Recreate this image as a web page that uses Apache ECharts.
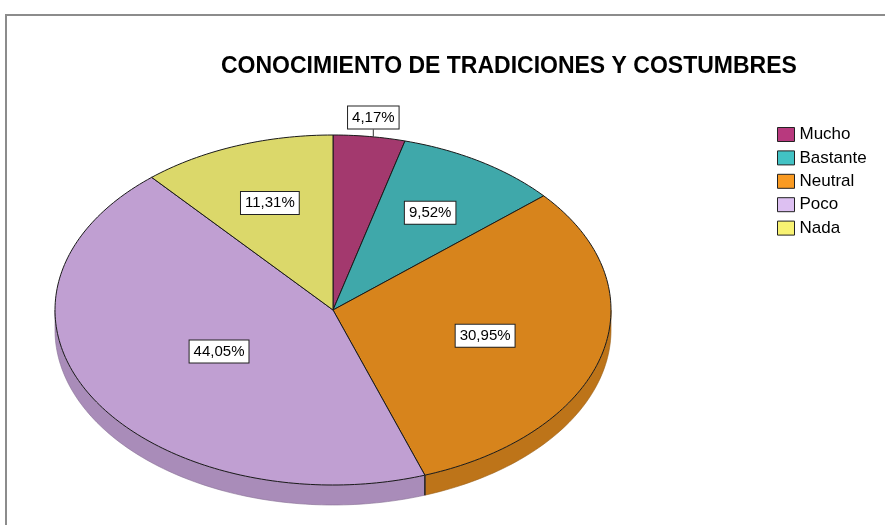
<!DOCTYPE html>
<html>
<head>
<meta charset="utf-8">
<script src="https://cdn.jsdelivr.net/npm/echarts@6/dist/echarts.min.js"></script>
<style>
  html, body { margin: 0; padding: 0; background: #fff; }
  #chart { width: 885px; height: 525px; }
</style>
</head>
<body>
<div id="chart"></div>
<script>
// data (percentages, clockwise from 12 o'clock)
const categories = ['Mucho', 'Bastante', 'Neutral', 'Poco', 'Nada'];
const percents = [4.17, 9.52, 30.95, 44.05, 11.31];
const sliceColors = ['#a3396e', '#3fa8aa', '#d7841c', '#c09fd2', '#dbd86a'];
const legendColors = ['#b8397e', '#42c2c4', '#f99a22', '#ddc0f2', '#f8f272'];

// ellipse layout (tilted pie)
const CX = 333, CY = 310, RX = 278, RY = 175, DEPTH = 20;

const total = percents.reduce((a, b) => a + b, 0);
const starts = [];
let acc = 0;
percents.forEach(v => { starts.push(acc); acc += v; });

function pt(theta, r) {
  return [CX + RX * r * Math.sin(theta), CY - RY * r * Math.cos(theta)];
}

function darken(hex, f) {
  const n = parseInt(hex.slice(1), 16);
  const r = Math.round(((n >> 16) & 255) * f);
  const g = Math.round(((n >> 8) & 255) * f);
  const b = Math.round((n & 255) * f);
  return 'rgb(' + r + ',' + g + ',' + b + ')';
}

function renderSlice(params, api) {
  const i = params.seriesIndex;
  const v = api.value(0);
  const a0 = starts[i] / total * Math.PI * 2;
  const a1 = a0 + v / total * Math.PI * 2;
  const steps = Math.max(4, Math.ceil((a1 - a0) / 0.02));
  const children = [];

  // side wall, only where the rim faces the viewer (90..270 deg)
  const s0 = Math.max(a0, Math.PI / 2), s1 = Math.min(a1, Math.PI * 1.5);
  if (s1 > s0) {
    const top = [], bottom = [];
    const n = Math.max(4, Math.ceil((s1 - s0) / 0.02));
    for (let k = 0; k <= n; k++) {
      const p = pt(s0 + (s1 - s0) * k / n, 1);
      top.push(p);
      bottom.push([p[0], p[1] + DEPTH]);
    }
    children.push({
      type: 'polygon', z2: 1,
      shape: { points: top.concat(bottom.reverse()) },
      style: { fill: darken(sliceColors[i], 0.88), stroke: darken(sliceColors[i], 0.7), lineWidth: 0.6 }
    });
    // dark edge where a slice boundary meets the wall
    [a0, a1].forEach(a => {
      if (a > Math.PI / 2 && a < Math.PI * 1.5) {
        const p = pt(a, 1);
        children.push({
          type: 'line', z2: 2,
          shape: { x1: p[0], y1: p[1], x2: p[0], y2: p[1] + DEPTH },
          style: { stroke: '#222', lineWidth: 1 }
        });
      }
    });
  }

  // top face
  const pts = [[CX, CY]];
  for (let k = 0; k <= steps; k++) pts.push(pt(a0 + (a1 - a0) * k / steps, 1));
  children.push({
    type: 'polygon', z2: 5,
    shape: { points: pts },
    style: { fill: sliceColors[i], stroke: '#1a1a1a', lineWidth: 1 }
  });

  // percent label at the sector centroid (small slices go outside)
  const mid = (a0 + a1) / 2;
  const half = (a1 - a0) / 2;
  const outside = v < 5;
  const frac = outside ? 1.11 : 2 * Math.sin(half) / (3 * half);
  const lp = pt(mid, frac);
  const label = v.toFixed(2).replace('.', ',') + '%';
  if (outside) {
    const e = pt(mid, 1);
    children.push({
      type: 'line', z2: 9,
      shape: { x1: lp[0], y1: lp[1] + 12, x2: lp[0], y2: e[1] },
      style: { stroke: '#333', lineWidth: 1 }
    });
  }
  children.push({
    type: 'text', z2: 10,
    x: lp[0], y: lp[1],
    style: {
      text: label, align: 'center', verticalAlign: 'middle',
      font: '15px "Liberation Sans", Arial, sans-serif', fill: '#000',
      backgroundColor: '#fff', borderColor: '#222', borderWidth: 1,
      padding: [4, 4, 3, 4]
    }
  });
  return { type: 'group', children: children };
}

const chart = echarts.init(document.getElementById('chart'), null, { renderer: 'canvas' });

const series = categories.map((name, i) => ({
  type: 'custom',
  name: name,
  coordinateSystem: 'none',
  itemStyle: { color: legendColors[i] },
  data: [[percents[i]]],
  renderItem: renderSlice,
  silent: true
}));

chart.setOption({
  animation: false,
  backgroundColor: '#fff',
  title: {
    text: 'CONOCIMIENTO DE TRADICIONES Y COSTUMBRES',
    left: 216, top: 50,
    textStyle: { fontFamily: '"Liberation Sans", Arial, sans-serif', fontSize: 23, fontWeight: 'bold', color: '#000' }
  },
  legend: {
    orient: 'vertical',
    left: 777, top: 126,
    padding: 0,
    itemWidth: 17, itemHeight: 14, itemGap: 6.4,
    icon: 'rect',
    textStyle: { fontFamily: '"Liberation Sans", Arial, sans-serif', fontSize: 17, color: '#000' },
    data: categories.map((name, i) => ({
      name: name,
      itemStyle: { color: legendColors[i], borderColor: '#222', borderWidth: 1 }
    }))
  },
  graphic: [{
    type: 'rect',
    shape: { x: 6, y: 15, width: 900, height: 600 },
    style: { fill: 'none', stroke: '#8c8c8c', lineWidth: 2 },
    silent: true
  }],
  series: series
});
</script>
</body>
</html>
